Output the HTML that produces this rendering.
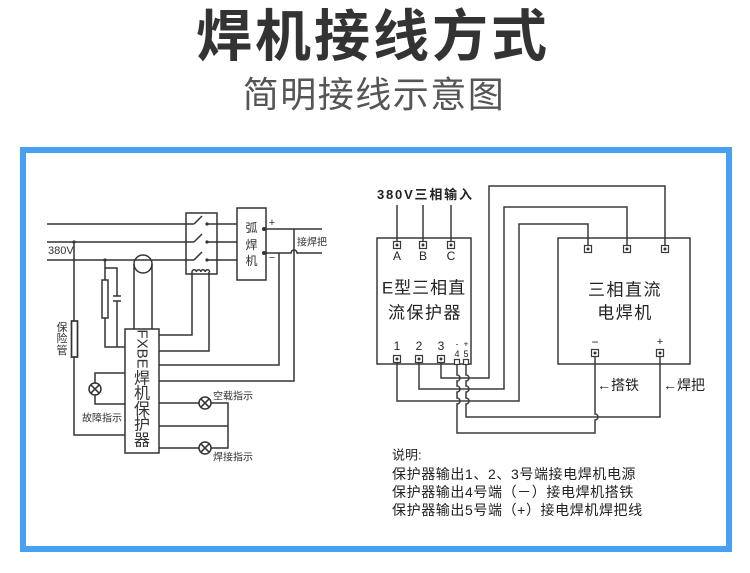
<!DOCTYPE html>
<html>
<head>
<meta charset="utf-8">
<style>
html,body{margin:0;padding:0;background:#fff;}
body{width:750px;height:573px;overflow:hidden;position:relative;}
svg{position:absolute;left:0;top:0;}
</style>
</head>
<body>
<svg width="750" height="573" viewBox="0 0 750 573" xmlns="http://www.w3.org/2000/svg">
  <!-- Titles -->
  <text x="373" y="56" text-anchor="middle" font-family="'Liberation Sans','Noto Sans CJK SC',sans-serif" font-size="56" font-weight="700" fill="#333" letter-spacing="3">焊机接线方式</text>
  <text x="374" y="107" text-anchor="middle" font-family="'Liberation Sans','Noto Sans CJK SC',sans-serif" font-size="36" font-weight="400" fill="#555" letter-spacing="1.5">简明接线示意图</text>

  <!-- Blue frame -->
  <rect x="23" y="150" width="706" height="399" fill="none" stroke="#47a0f2" stroke-width="6"/>

  <g fill="none" stroke="#333" stroke-width="1.5">
    <!-- LEFT DIAGRAM -->
    <path d="M47 224 H194 M194 224 L202 216 M207 224 H237"/>
    <path d="M47 242 H194 M194 242 L202 234 M207 242 H237"/>
    <path d="M47 260 H194 M194 260 L202 252 M207 260 H237"/>
    <rect x="186" y="213" width="31" height="61"/>
    <path d="M192 272 a2.2 2.2 0 0 1 4.4 0 a2.2 2.2 0 0 1 4.4 0 a2.2 2.2 0 0 1 4.4 0 a2.2 2.2 0 0 1 4.4 0"/>
    <path d="M192 272 V335 H159"/>
    <path d="M209 272 V351 H159"/>
    <rect x="237" y="208" width="29" height="72"/>
    <path d="M266 229 H322"/>
    <path d="M266 253 H291 A3 3 0 0 1 297 253 H322"/>
    <path d="M294 229 V381 H159"/>
    <path d="M279 253 V365 H159"/>
    <circle cx="143" cy="264" r="9"/>
    <path d="M134 264 V329 M152 264 V329"/>
    <rect x="125" y="329" width="34" height="124"/>
    <path d="M74 242 V321 M74 357 V435 H125"/>
    <rect x="71.5" y="321" width="6" height="36" stroke-width="1.7"/>
    <path d="M105 260 V280 M105 318 V347 H125"/>
    <rect x="102" y="280" width="6" height="38"/>
    <path d="M105 268 H117 V296 M113 296 H121 M113 301 H121 M117 301 V347"/>
    <path d="M125 373 H95 V383 M95 395 V404 H125"/>
    <circle cx="95" cy="389" r="6"/>
    <path d="M90.8 384.8 L99.2 393.2 M99.2 384.8 L90.8 393.2"/>
    <path d="M159 403 H199 M211 403 H228 V448 H211 M159 448 H199 M159 426 H228"/>
    <circle cx="205" cy="403" r="6"/>
    <path d="M200.8 398.8 L209.2 407.2 M209.2 398.8 L200.8 407.2"/>
    <circle cx="205" cy="448" r="6"/>
    <path d="M200.8 443.8 L209.2 452.2 M209.2 443.8 L200.8 452.2"/>
  </g>
  <g fill="#333">
    <circle cx="207" cy="224" r="1.6"/>
    <circle cx="207" cy="242" r="1.6"/>
    <circle cx="207" cy="260" r="1.6"/>
    <circle cx="264" cy="229" r="2"/>
    <circle cx="264" cy="253" r="2"/>
    <circle cx="74" cy="242" r="1.6"/>
    <circle cx="105" cy="260" r="1.6"/>
  </g>

  <g font-family="'Liberation Sans','Noto Sans CJK SC',sans-serif" fill="#333">
    <text x="48" y="254" font-size="11">380V</text>
    <text x="251.5" y="228" font-size="12" text-anchor="middle" dominant-baseline="central">弧</text>
    <text x="251.5" y="245" font-size="12" text-anchor="middle" dominant-baseline="central">焊</text>
    <text x="251.5" y="261" font-size="12" text-anchor="middle" dominant-baseline="central">机</text>
    <text x="272" y="223" font-size="11" text-anchor="middle" dominant-baseline="central">+</text>
    <text x="272" y="258" font-size="11" text-anchor="middle" dominant-baseline="central">−</text>
    <text x="297" y="243" font-size="10" dominant-baseline="central">接焊把</text>
    <text x="62" y="328" font-size="11" text-anchor="middle" dominant-baseline="central">保</text>
    <text x="62" y="339" font-size="11" text-anchor="middle" dominant-baseline="central">险</text>
    <text x="62" y="351" font-size="11" text-anchor="middle" dominant-baseline="central">管</text>
    <text transform="translate(142 349) rotate(90)" font-size="15" text-anchor="middle" dominant-baseline="central">FXBE</text>
    <text x="142" y="379" font-size="16" text-anchor="middle" dominant-baseline="central">焊</text>
    <text x="142" y="394" font-size="16" text-anchor="middle" dominant-baseline="central">机</text>
    <text x="142" y="410" font-size="16" text-anchor="middle" dominant-baseline="central">保</text>
    <text x="142" y="425" font-size="16" text-anchor="middle" dominant-baseline="central">护</text>
    <text x="142" y="441" font-size="16" text-anchor="middle" dominant-baseline="central">器</text>
    <text x="82" y="419" font-size="10" dominant-baseline="central">故障指示</text>
    <text x="213" y="397" font-size="10" dominant-baseline="central">空载指示</text>
    <text x="213" y="458" font-size="10" dominant-baseline="central">焊接指示</text>
  </g>

  <!-- RIGHT DIAGRAM -->
  <g fill="none" stroke="#3a3a3a" stroke-width="1.5">
    <path d="M397 205 V241 M423 205 V241 M451 205 V241"/>
    <rect x="377" y="238" width="94" height="126"/>
    <rect x="558" y="238" width="132" height="126"/>
    <path d="M441 362 V378 H489 V186 H665 V245"/>
    <path d="M419 362 V389 H504 V207 H627 V245"/>
    <path d="M397 362 V401 H519 V224 H588 V245"/>
    <path d="M466 365 V375 A3 3 0 0 1 466 381 V386 A3 3 0 0 1 466 392 V398 A3 3 0 0 1 466 404 V417 H660 V357"/>
    <path d="M457 365 V375 A3 3 0 0 1 457 381 V386 A3 3 0 0 1 457 392 V398 A3 3 0 0 1 457 404 V433 H595 V420 A3 3 0 0 0 595 414 V357"/>
  </g>
  <g fill="#fff" stroke="#3a3a3a" stroke-width="1.2">
    <rect x="393.5" y="241.5" width="7" height="7"/>
    <rect x="419.5" y="241.5" width="7" height="7"/>
    <rect x="447.5" y="241.5" width="7" height="7"/>
    <rect x="584.5" y="245.5" width="7" height="7"/>
    <rect x="623.5" y="245.5" width="7" height="7"/>
    <rect x="661.5" y="245.5" width="7" height="7"/>
    <rect x="393.5" y="355.5" width="7" height="7"/>
    <rect x="415.5" y="355.5" width="7" height="7"/>
    <rect x="437.5" y="355.5" width="7" height="7"/>
    <rect x="454.5" y="359.5" width="5" height="5"/>
    <rect x="463.5" y="359.5" width="5" height="5"/>
    <rect x="591.5" y="349.5" width="7" height="7"/>
    <rect x="656.5" y="349.5" width="7" height="7"/>
  </g>
  <g fill="#333">
    <circle cx="397" cy="245" r="1.5"/>
    <circle cx="423" cy="245" r="1.5"/>
    <circle cx="451" cy="245" r="1.5"/>
    <circle cx="588" cy="249" r="1.5"/>
    <circle cx="627" cy="249" r="1.5"/>
    <circle cx="665" cy="249" r="1.5"/>
    <circle cx="397" cy="359" r="1.5"/>
    <circle cx="419" cy="359" r="1.5"/>
    <circle cx="441" cy="359" r="1.5"/>
    <circle cx="595" cy="353" r="1.5"/>
    <circle cx="660" cy="353" r="1.5"/>
  </g>

  <g font-family="'Liberation Sans','Noto Sans CJK SC',sans-serif" fill="#222">
    <text x="377" y="199" font-size="13" font-weight="700" letter-spacing="1.8">380V三相输入</text>
    <text x="397" y="256" font-size="12" text-anchor="middle" dominant-baseline="central">A</text>
    <text x="423" y="256" font-size="12" text-anchor="middle" dominant-baseline="central">B</text>
    <text x="451" y="256" font-size="12" text-anchor="middle" dominant-baseline="central">C</text>
    <text x="424" y="288" font-size="17" text-anchor="middle" dominant-baseline="central" letter-spacing="1">E型三相直</text>
    <text x="425" y="313" font-size="17" text-anchor="middle" dominant-baseline="central" letter-spacing="1.5">流保护器</text>
    <text x="397" y="346" font-size="12" text-anchor="middle" dominant-baseline="central">1</text>
    <text x="419" y="346" font-size="12" text-anchor="middle" dominant-baseline="central">2</text>
    <text x="441" y="346" font-size="12" text-anchor="middle" dominant-baseline="central">3</text>
    <text x="457" y="344" font-size="8" text-anchor="middle" dominant-baseline="central">-</text>
    <text x="466" y="344" font-size="8" text-anchor="middle" dominant-baseline="central">+</text>
    <text x="457" y="354" font-size="9" text-anchor="middle" dominant-baseline="central">4</text>
    <text x="466" y="354" font-size="9" text-anchor="middle" dominant-baseline="central">5</text>
    <text x="625" y="290" font-size="17" text-anchor="middle" dominant-baseline="central" letter-spacing="1.5">三相直流</text>
    <text x="625" y="313" font-size="17" text-anchor="middle" dominant-baseline="central" letter-spacing="1.5">电焊机</text>
    <text x="595" y="342" font-size="12" text-anchor="middle" dominant-baseline="central">−</text>
    <text x="660" y="342" font-size="11" text-anchor="middle" dominant-baseline="central">+</text>
    <text x="597" y="385" font-size="14" dominant-baseline="central">←搭铁</text>
    <text x="663" y="385" font-size="14" dominant-baseline="central">←焊把</text>
    <text x="392" y="455" font-size="13" dominant-baseline="central">说明:</text>
    <text x="392" y="474" font-size="14" dominant-baseline="central" letter-spacing="0.6">保护器输出1、2、3号端接电焊机电源</text>
    <text x="392" y="492" font-size="14" dominant-baseline="central" letter-spacing="0.6">保护器输出4号端（－）接电焊机搭铁</text>
    <text x="392" y="510" font-size="14" dominant-baseline="central" letter-spacing="0.6">保护器输出5号端（+）接电焊机焊把线</text>
  </g>
</svg>
</body>
</html>
